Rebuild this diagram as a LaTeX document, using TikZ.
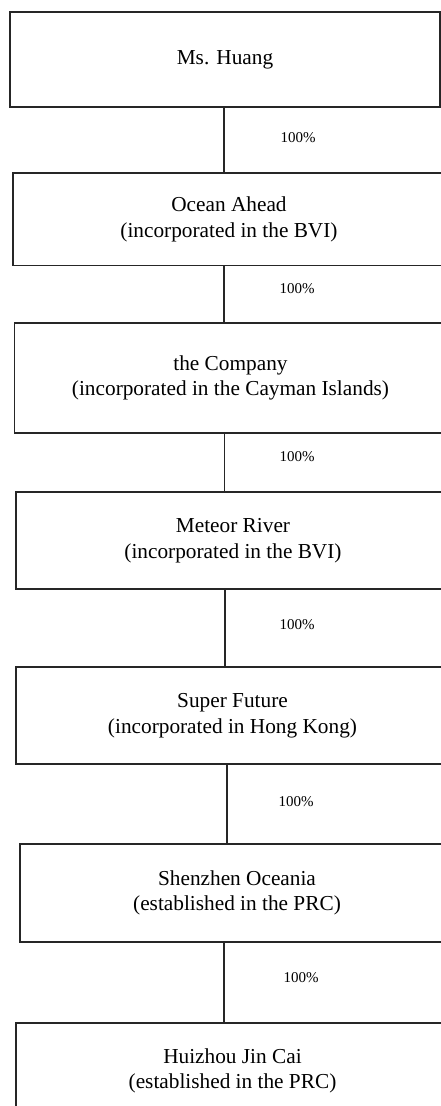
\documentclass[tikz,border=0pt]{standalone}
\usepackage{fontspec}
\setmainfont{Liberation Serif}
\begin{document}
\begin{tikzpicture}[x=1pt,y=-1pt,
  entity/.style={draw=black!85, line width=1.5pt, align=center, inner sep=0pt,
    font=\fontsize{21.3pt}{25.6pt}\selectfont},
  pct/.style={inner sep=0pt, font=\fontsize{15pt}{18pt}\selectfont},
  link/.style={draw=black!85, line width=1.5pt}]
\useasboundingbox (0,0) rectangle (441,1106);
\clip (0,0) rectangle (441,1106);
\node[entity, minimum width=430pt, minimum height=95pt] (n1) at (225,59.5) {Ms. Huang};
\node[entity, minimum width=432pt, minimum height=92.5pt] (n2) at (229,219.25) {Ocean Ahead\\(incorporated in the BVI)};
\node[entity, minimum width=432pt, minimum height=110pt] (n3) at (230.5,378) {the Company\\(incorporated in the Cayman Islands)};
\node[entity, minimum width=434pt, minimum height=97pt] (n4) at (233,540.5) {Meteor River\\(incorporated in the BVI)};
\node[entity, minimum width=433pt, minimum height=97pt] (n5) at (232.5,715.5) {Super Future\\(incorporated in Hong Kong)};
\node[entity, minimum width=434pt, minimum height=98pt] (n6) at (237,893) {Shenzhen Oceania\\(established in the PRC)};
\node[entity, minimum width=433pt, minimum height=96pt] (n7) at (232.5,1071) {Huizhou Jin Cai\\(established in the PRC)};
\draw[link] (224,0 |- n1.south) -- (224,0 |- n2.north);
\draw[link] (224,0 |- n2.south) -- (224,0 |- n3.north);
\draw[link] (224.5,0 |- n3.south) -- (224.5,0 |- n4.north);
\draw[link] (225,0 |- n4.south) -- (225,0 |- n5.north);
\draw[link] (227,0 |- n5.south) -- (227,0 |- n6.north);
\draw[link] (224,0 |- n6.south) -- (224,0 |- n7.north);
\node[pct] (p1) at (298,138) {100\%};
\node[pct] (p2) at (297,289) {100\%};
\node[pct] (p3) at (297,457) {100\%};
\node[pct] (p4) at (297,625) {100\%};
\node[pct] (p5) at (296,802) {100\%};
\node[pct] (p6) at (301,978) {100\%};
\end{tikzpicture}
\end{document}
